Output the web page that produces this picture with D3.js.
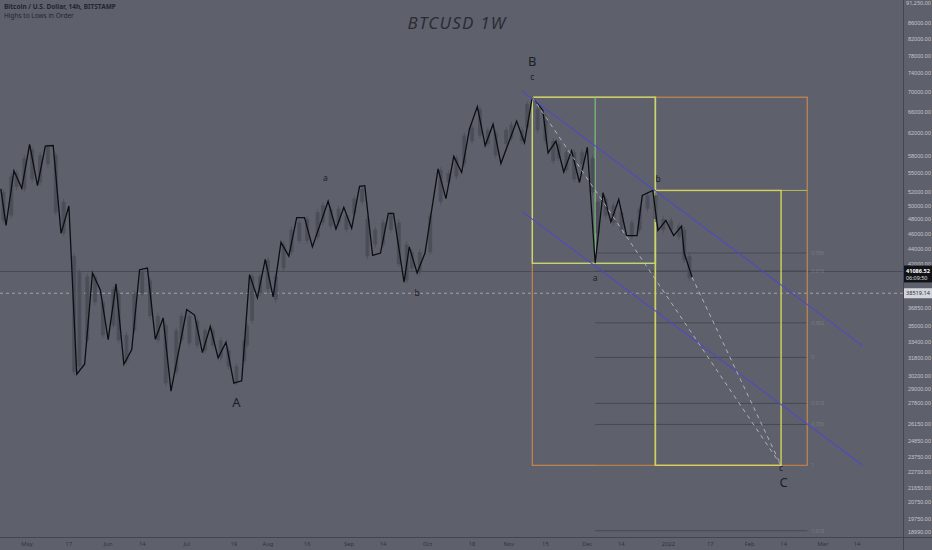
<!DOCTYPE html>
<html><head><meta charset="utf-8">
<script src="https://cdn.jsdelivr.net/npm/d3@7/dist/d3.min.js"></script>
<style>html,body{margin:0;padding:0;background:#5e616c;}svg{display:block;font-family:"Noto Sans","DejaVu Sans",sans-serif;}</style>
</head><body><svg id="c" width="932" height="550"></svg>
<script>
// ---------- data ----------
const zzDates = ["2021-04-21","2021-04-23","2021-04-26","2021-04-29","2021-05-02","2021-05-05","2021-05-08","2021-05-11","2021-05-14","2021-05-17","2021-05-20","2021-05-23","2021-05-26","2021-05-29","2021-06-01","2021-06-04","2021-06-07","2021-06-10","2021-06-13","2021-06-16","2021-06-19","2021-06-22","2021-06-25","2021-07-01","2021-07-04","2021-07-07","2021-07-10","2021-07-13","2021-07-16","2021-07-19","2021-07-22","2021-07-25","2021-07-28","2021-07-31","2021-08-03","2021-08-06","2021-08-09","2021-08-12","2021-08-15","2021-08-18","2021-08-24","2021-08-27","2021-08-30","2021-09-02","2021-09-05","2021-09-07","2021-09-10","2021-09-13","2021-09-16","2021-09-18","2021-09-22","2021-09-24","2021-09-27","2021-09-30","2021-10-05","2021-10-08","2021-10-11","2021-10-14","2021-10-17","2021-10-20","2021-10-23","2021-10-26","2021-10-29","2021-11-04","2021-11-07","2021-11-10","2021-11-14","2021-11-16","2021-11-19","2021-11-22","2021-11-25","2021-11-28","2021-12-01","2021-12-04","2021-12-07","2021-12-10","2021-12-13","2021-12-16","2021-12-20","2021-12-22","2021-12-26","2021-12-28","2021-12-31","2022-01-03","2022-01-06","2022-01-07","2022-01-10"];
const zzPrices = [52500,47100,55400,52600,59900,53000,59600,59700,46000,49900,30300,31200,40900,38900,33560,39600,31200,32600,41300,41500,33600,35800,28800,36700,36100,32300,34900,31800,33300,29500,29700,40700,38000,42600,38100,44800,43000,48200,48200,44200,50600,46600,49700,46700,52900,53000,43100,43400,48800,48800,39800,44200,40900,43400,55700,51000,57800,55100,62700,67000,59700,63600,56600,64200,60200,68900,66300,58400,60500,55200,58800,53500,59400,42100,51900,47600,50900,45700,45700,51500,52250,46400,47800,45700,47000,43400,40400];

const grayDates = ["2021-04-22","2021-04-25","2021-04-27","2021-04-30","2021-05-03","2021-05-06","2021-05-09","2021-05-12","2021-05-15","2021-05-19","2021-05-21","2021-05-24","2021-05-27","2021-05-30","2021-06-03","2021-06-05","2021-06-08","2021-06-11","2021-06-14","2021-06-17","2021-06-20","2021-06-23","2021-06-27","2021-06-29","2021-07-02","2021-07-05","2021-07-08","2021-07-11","2021-07-14","2021-07-17","2021-07-20","2021-07-23","2021-07-24","2021-07-26","2021-07-29","2021-08-01","2021-08-04","2021-08-07","2021-08-10","2021-08-13","2021-08-16","2021-08-20","2021-08-22","2021-08-25","2021-08-28","2021-08-31","2021-09-03","2021-09-06","2021-09-08","2021-09-11","2021-09-14","2021-09-17","2021-09-20","2021-09-23","2021-09-25","2021-09-28","2021-10-02","2021-10-06","2021-10-09","2021-10-12","2021-10-15","2021-10-18","2021-10-21","2021-10-24","2021-10-27","2021-10-31","2021-11-02","2021-11-06","2021-11-08","2021-11-12","2021-11-15","2021-11-18","2021-11-20","2021-11-23","2021-11-26","2021-11-29","2021-12-03","2021-12-05","2021-12-08","2021-12-11","2021-12-14","2021-12-18","2021-12-21","2021-12-24","2021-12-27","2021-12-30","2022-01-02","2022-01-05","2022-01-07","2022-01-09"];
const grayHigh = [52000,54500,55000,57500,59000,58000,59500,58000,50500,43000,41000,40500,40500,37500,39000,38500,34000,38500,41000,40000,36000,35000,34500,36000,36000,35500,34500,34500,33500,32500,31000,33500,35000,40500,40500,42500,40500,44500,46500,47500,48000,49000,50000,49500,49500,48500,51000,52500,48000,46500,47500,48500,47500,44500,43500,43500,48500,55500,55000,57500,61500,63000,66500,62500,62000,62500,63500,62500,67500,66500,65000,60500,60000,58500,58500,58500,57500,50500,51000,50000,49000,47500,49500,51500,51500,48000,47800,47000,46500,43000];
const grayLow = [47800,48500,52800,52500,54000,53500,56500,49000,46000,30500,31000,33500,37500,34000,35000,33500,31500,34500,38500,36000,33500,29500,30500,33500,33200,33000,32500,33000,31800,31000,29600,31500,33000,35500,38500,39000,37800,41500,43500,45000,45000,45500,47500,47000,47500,46500,48800,50500,43000,44500,44500,46500,42000,40000,41500,41000,43500,50500,53500,54500,56500,60500,61500,60000,58000,60000,61000,60500,63000,62500,60500,57000,57500,55500,54000,56500,52000,46000,48500,47500,46500,45600,46500,49500,48000,46500,46500,45500,42500,40300];

const yTickValues = [86000,82000,78000,74000,70000,66000,62000,58000,55000,52000,50000,48000,46000,44000,42000,36850,35000,33400,31800,30200,29000,27800,26150,24850,23750,22700,21650,20750,19750,18990];
const xTicks = [["2021-05-01","May"],["2021-05-17","17"],["2021-06-01","Jun"],["2021-06-14","14"],["2021-07-01","Jul"],["2021-07-19","19"],["2021-08-01","Aug"],["2021-08-16","16"],["2021-09-01","Sep"],["2021-09-14","14"],["2021-10-01","Oct"],["2021-10-18","18"],["2021-11-01","Nov"],["2021-11-15","15"],["2021-12-01","Dec"],["2021-12-14","14"],["2022-01-01","2022"],["2022-01-17","17"],["2022-02-01","Feb"],["2022-02-14","14"],["2022-03-01","Mar"],["2022-03-14","14"]];

const lastPrice = 41086.52, lastCountdown = "06:09:50";
const markPrice = 38519.14;
const fibLevels = [43400,41140,35280,31840,27780,26100,23120,19040];
const fibLabels = ["0.786","0.618","0.382","0","0.618","0.786","1","1.618"];

const waveLabels = [
  {d:"2021-11-10",p:75600,t:"B",big:true},
  {d:"2021-11-10",p:72600,t:"c",big:false},
  {d:"2021-08-23",p:53800,t:"a",big:false},
  {d:"2021-09-27",p:38200,t:"b",big:false},
  {d:"2021-07-20",p:27500,t:"A",big:true},
  {d:"2021-12-04",p:40000,t:"a",big:false},
  {d:"2021-12-28",p:53500,t:"b",big:false},
  {d:"2022-02-13",p:22750,t:"c",big:false},
  {d:"2022-02-14",p:21650,t:"C",big:true}
];

// ---------- scales ----------
const P = d3.timeParse("%Y-%m-%d");
const W = 932, H = 550, plotR = 903, plotB = 537;
const x = d3.scaleTime().domain([P("2021-05-01"), P("2022-03-14")]).range([27, 857]);
const y = d3.scaleLog().domain([18690, 91930]).range([plotB, 0]);

const svg = d3.select("#c");
svg.append("rect").attr("width",W).attr("height",H).attr("fill","#5e616c");
const plot = svg.append("g");
plot.append("clipPath").attr("id","clip").append("rect").attr("width",plotR).attr("height",plotB);
const g = plot.append("g").attr("clip-path","url(#clip)");

// full-width price lines
g.append("line").attr("x1",0).attr("x2",plotR).attr("y1",y(lastPrice)).attr("y2",y(lastPrice))
  .attr("stroke","#484b55").attr("stroke-width",1);
g.append("line").attr("x1",0).attr("x2",plotR).attr("y1",y(markPrice)).attr("y2",y(markPrice))
  .attr("stroke","#c9cbd2").attr("stroke-width",0.8).attr("stroke-dasharray","3,3").attr("opacity",0.8);

// fib levels
const fibX1 = x(P("2021-12-04")), fibX2 = x(P("2022-02-23"));
fibLevels.forEach((p,i)=>{
  g.append("line").attr("x1",fibX1).attr("x2",fibX2).attr("y1",y(p)).attr("y2",y(p))
    .attr("stroke","#464953").attr("stroke-width",1);
  g.append("text").attr("x",fibX2+4).attr("y",y(p)+2).attr("font-size",5).attr("fill","#777a84").text(fibLabels[i]);
});

// orange box
const oX1 = x(P("2021-11-10")), oX2 = x(P("2022-02-23"));
g.append("rect").attr("x",oX1).attr("y",y(68900)).attr("width",oX2-oX1).attr("height",y(23120)-y(68900))
  .attr("fill","none").attr("stroke","#d28a4a").attr("stroke-width",1.2).attr("opacity",0.9);
// yellow box 2
const b2X1 = x(P("2021-12-27")), b2X2 = x(P("2022-02-13"));
g.append("line").attr("x1",b2X1).attr("x2",oX2).attr("y1",y(52250)).attr("y2",y(52250))
  .attr("stroke","#b7b85a").attr("stroke-width",1);
g.append("rect").attr("x",b2X1).attr("y",y(52250)).attr("width",b2X2-b2X1).attr("height",y(23120)-y(52250))
  .attr("fill","none").attr("stroke","#d3d35c").attr("stroke-width",1.4);
g.append("line").attr("x1",b2X1).attr("x2",b2X1).attr("y1",y(68900)).attr("y2",y(23120))
  .attr("stroke","#d3d35c").attr("stroke-width",1.4);
// yellow-green box 1
const b1X1 = x(P("2021-11-10")), b1X2 = x(P("2021-12-27"));
g.append("rect").attr("x",b1X1).attr("y",y(68900)).attr("width",b1X2-b1X1).attr("height",y(42100)-y(68900))
  .attr("fill","none").attr("stroke","#c8d870").attr("stroke-width",1.4);
g.append("line").attr("x1",x(P("2021-12-04"))).attr("x2",x(P("2021-12-04"))).attr("y1",y(68900)).attr("y2",y(42100))
  .attr("stroke","#78c27a").attr("stroke-width",1.2);

// gray candles
grayDates.forEach((d,i)=>{
  const cx = x(P(d));
  g.append("rect").attr("x",cx-2).attr("width",4).attr("y",y(grayHigh[i])).attr("height",Math.max(1,y(grayLow[i])-y(grayHigh[i])))
    .attr("fill","#4a4d57").attr("opacity",0.85);
  g.append("line").attr("x1",cx).attr("x2",cx).attr("y1",y(grayHigh[i])-3).attr("y2",y(grayLow[i])+3)
    .attr("stroke","#4a4d57").attr("stroke-width",0.8);
});

// zigzag
const zz = zzDates.map((d,i)=>({d:P(d),p:zzPrices[i]})).filter(o=>o.p!=null);
g.append("path").datum(zz).attr("fill","none").attr("stroke","#0d0e12").attr("stroke-width",1.3)
  .attr("stroke-linejoin","miter")
  .attr("d",d3.line().x(o=>x(o.d)).y(o=>y(o.p)));

// blue channel
const chan = [
  [["2021-11-06",70200],["2022-03-16",32970]],
  [["2021-11-06",49100],["2022-03-16",23140]]
];
chan.forEach(s=>{
  g.append("line").attr("x1",x(P(s[0][0]))).attr("y1",y(s[0][1])).attr("x2",x(P(s[1][0]))).attr("y2",y(s[1][1]))
    .attr("stroke","#4c4ac4").attr("stroke-width",1.1);
});

// dashed projections
const dash = [
  [["2021-11-10",68900],["2022-02-13",23120]],
  [["2022-01-10",40400],["2022-02-13",23120]]
];
dash.forEach(s=>{
  g.append("line").attr("x1",x(P(s[0][0]))).attr("y1",y(s[0][1])).attr("x2",x(P(s[1][0]))).attr("y2",y(s[1][1]))
    .attr("stroke","#c9cbd1").attr("stroke-width",0.9).attr("stroke-dasharray","4,4").attr("opacity",0.85);
});

// wave labels
waveLabels.forEach(l=>{
  g.append("text").attr("x",x(P(l.d))).attr("y",y(l.p)).attr("text-anchor","middle")
    .attr("font-size",l.big?13:8.5).attr("fill","#1c1e25").text(l.t);
});

// title + legend
svg.append("text").attr("x",457).attr("y",29).attr("text-anchor","middle").attr("font-size",17)
  .attr("font-style","italic").attr("letter-spacing",1.2).attr("fill","#2a2d36").text("BTCUSD 1W");
svg.append("text").attr("x",4).attr("y",9).attr("font-size",6.5).attr("font-weight","bold").attr("fill","#23262e")
  .text("Bitcoin / U.S. Dollar, 14h, BITSTAMP");
svg.append("text").attr("x",4).attr("y",18).attr("font-size",6.5).attr("fill","#23262e").text("Highs to Lows in Order");

// axes separators
svg.append("line").attr("x1",plotR+0.5).attr("x2",plotR+0.5).attr("y1",0).attr("y2",H).attr("stroke","#43464f").attr("stroke-width",1);
svg.append("line").attr("x1",0).attr("x2",W).attr("y1",plotB+0.5).attr("y2",plotB+0.5).attr("stroke","#43464f").attr("stroke-width",1);

// right axis
const yAxis = d3.axisRight(y).tickValues(yTickValues).tickSize(0).tickFormat(d3.format(".2f"));
const ya = svg.append("g").attr("transform",`translate(${plotR+1},0)`).call(yAxis);
ya.select(".domain").remove();
ya.selectAll("text").attr("font-size",5.5).attr("fill","#c3c5cd").attr("x",4);
svg.append("text").attr("x",906).attr("y",y(91000)+2).attr("font-size",5.5).attr("fill","#c3c5cd").text("91,250.00");

// price boxes
const lp = y(lastPrice);
svg.append("rect").attr("x",plotR+1).attr("y",lp-6).attr("width",W-plotR-1).attr("height",17).attr("fill","#111318");
svg.append("text").attr("x",906).attr("y",lp+1.5).attr("font-size",5.6).attr("font-weight","bold").attr("fill","#ffffff").text(d3.format(".2f")(lastPrice));
svg.append("text").attr("x",906).attr("y",lp+8.5).attr("font-size",5.4).attr("fill","#e0e0e0").text(lastCountdown);
const mp = y(markPrice);
svg.append("rect").attr("x",plotR+1).attr("y",mp-5).attr("width",W-plotR-1).attr("height",10).attr("fill","#d3d5dc");
svg.append("text").attr("x",906).attr("y",mp+2).attr("font-size",5.6).attr("fill","#2a2d35").text(d3.format(".2f")(markPrice));

// bottom axis
const xa = svg.append("g").attr("transform",`translate(0,${plotB})`);
xTicks.forEach(t=>{
  xa.append("text").attr("x",x(P(t[0]))).attr("y",9).attr("text-anchor","middle").attr("font-size",5.8)
    .attr("fill","#30333c").text(t[1]);
});
</script></body></html>
